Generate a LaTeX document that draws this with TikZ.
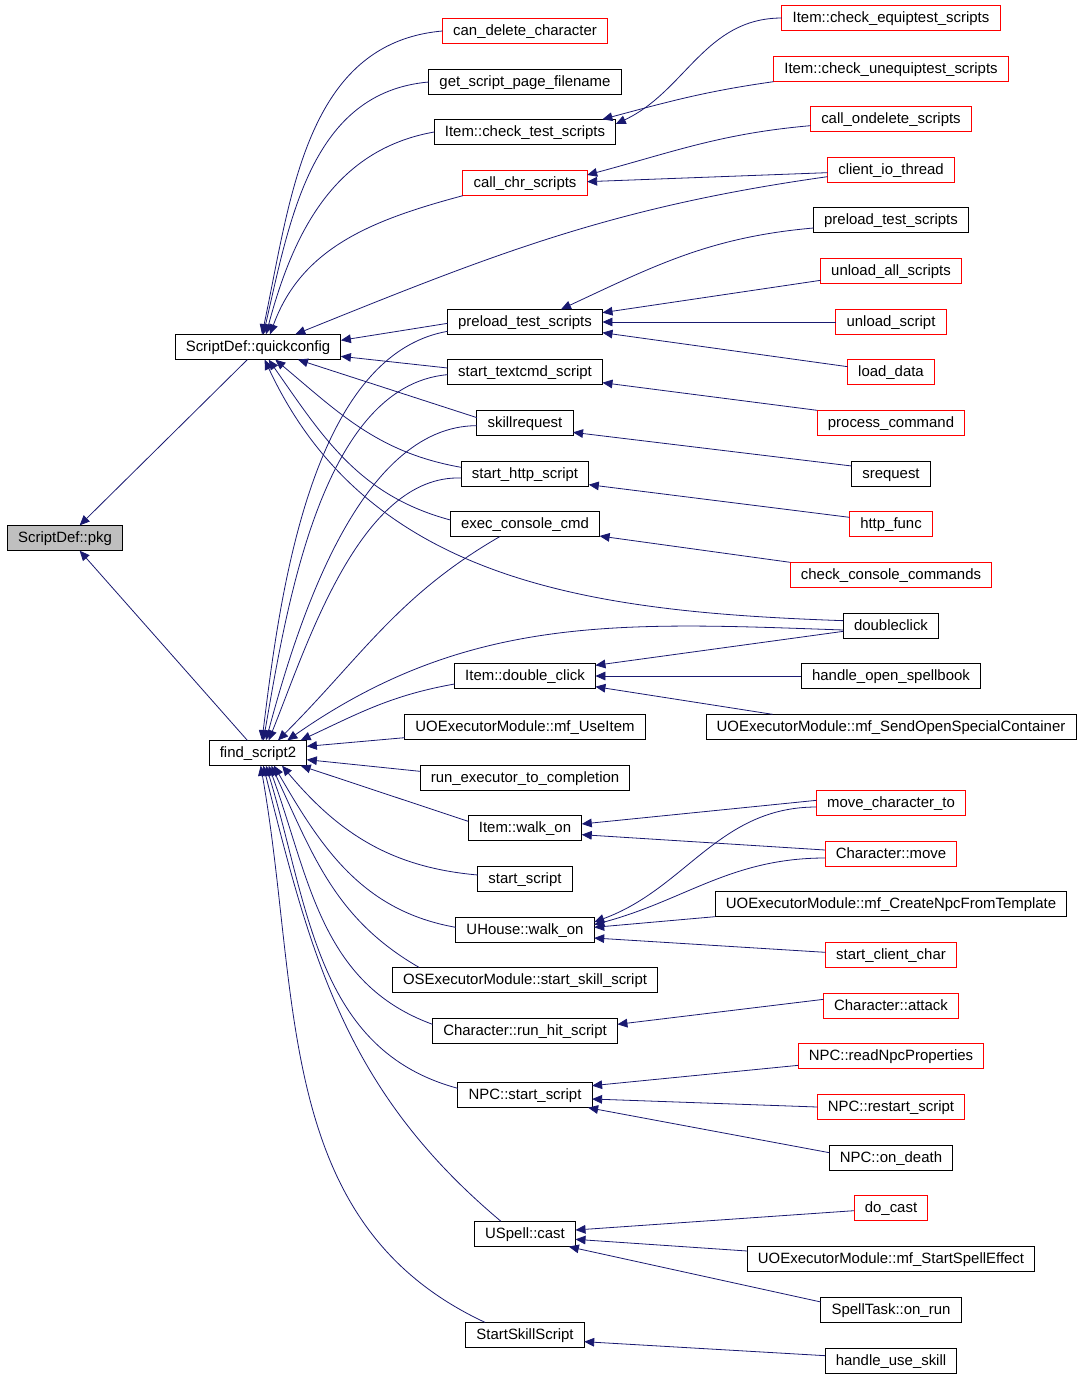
\documentclass[tikz,border=0pt]{standalone}
\usepackage{fontspec}
\setmainfont{Liberation Sans}
\usetikzlibrary{arrows.meta}

\definecolor{navy}{HTML}{191970}
\definecolor{nodoc}{HTML}{FF0000}
\definecolor{self}{HTML}{BFBFBF}

\begin{document}
\begin{tikzpicture}
  [ x=0.75pt, y=-0.75pt
  , fn/.style={draw=black, line width=0.75pt, shape=rectangle, minimum height=19pt,
               inner xsep=8pt, inner ysep=0pt, outer sep=0pt,
               text height=8.4pt, text depth=2.2pt,
               font=\fontsize{11.2}{13}\selectfont}
  , undoc/.style={fn, draw=nodoc}
  , root/.style={fn, fill=self}
  , call/.style={draw=navy, line width=0.6pt, -{Triangle[length=7.5pt,width=6.5pt]}, navy}
  ]
  \useasboundingbox (0,0) rectangle (1083,1380);

  \node[root]  (pkg) at (65,538)  {ScriptDef::pkg};
  \node[fn]    (qc)  at (258,347) {ScriptDef::quickconfig};
  \node[fn]    (fs)  at (258,753) {find\_script2};

  % callers of quickconfig / find_script2
  \node[undoc] (cdc) at (525,31)   {can\_delete\_character};
  \node[fn]    (gsp) at (525,82)   {get\_script\_page\_filename};
  \node[fn]    (ict) at (525,132)  {Item::check\_test\_scripts};
  \node[undoc] (ccs) at (525,183)  {call\_chr\_scripts};
  \node[fn]    (pts) at (525,322)  {preload\_test\_scripts};
  \node[fn]    (tcs) at (525,372)  {start\_textcmd\_script};
  \node[fn]    (skr) at (525,423)  {skillrequest};
  \node[fn]    (hts) at (525,474)  {start\_http\_script};
  \node[fn]    (ecc) at (525,524)  {exec\_console\_cmd};
  \node[fn]    (idc) at (525,676)  {Item::double\_click};
  \node[fn]    (mui) at (525,727)  {UOExecutorModule::mf\_UseItem};
  \node[fn]    (rec) at (525,778)  {run\_executor\_to\_completion};
  \node[fn]    (iwo) at (525,828)  {Item::walk\_on};
  \node[fn]    (sts) at (525,879)  {start\_script};
  \node[fn]    (uhw) at (525,930)  {UHouse::walk\_on};
  \node[fn]    (oss) at (525,980)  {OSExecutorModule::start\_skill\_script};
  \node[fn]    (rhs) at (525,1031) {Character::run\_hit\_script};
  \node[fn]    (nss) at (525,1095) {NPC::start\_script};
  \node[fn]    (usc) at (525,1234) {USpell::cast};
  \node[fn]    (sks) at (525,1335) {StartSkillScript};

  % outer callers
  \node[undoc] (ces)  at (891,18)   {Item::check\_equiptest\_scripts};
  \node[undoc] (cus)  at (891,69)   {Item::check\_unequiptest\_scripts};
  \node[undoc] (cos)  at (891,119)  {call\_ondelete\_scripts};
  \node[undoc] (cit)  at (891,170)  {client\_io\_thread};
  \node[fn]    (pts2) at (891,220)  {preload\_test\_scripts};
  \node[undoc] (uas)  at (891,271)  {unload\_all\_scripts};
  \node[undoc] (uls)  at (891,322)  {unload\_script};
  \node[undoc] (ld)   at (891,372)  {load\_data};
  \node[undoc] (pc)   at (891,423)  {process\_command};
  \node[fn]    (srq)  at (891,474)  {srequest};
  \node[undoc] (hf)   at (891,524)  {http\_func};
  \node[undoc] (chc)  at (891,575)  {check\_console\_commands};
  \node[fn]    (dcl)  at (891,626)  {doubleclick};
  \node[fn]    (hos)  at (891,676)  {handle\_open\_spellbook};
  \node[fn]    (soc)  at (891,727)  {UOExecutorModule::mf\_SendOpenSpecialContainer};
  \node[undoc] (mct)  at (891,803)  {move\_character\_to};
  \node[undoc] (cmv)  at (891,854)  {Character::move};
  \node[fn]    (cnt)  at (891,904)  {UOExecutorModule::mf\_CreateNpcFromTemplate};
  \node[undoc] (scc)  at (891,955)  {start\_client\_char};
  \node[undoc] (cat)  at (891,1006) {Character::attack};
  \node[undoc] (rnp)  at (891,1056) {NPC::readNpcProperties};
  \node[undoc] (nrs)  at (891,1107) {NPC::restart\_script};
  \node[fn]    (nod)  at (891,1158) {NPC::on\_death};
  \node[undoc] (dca)  at (891,1208) {do\_cast};
  \node[fn]    (sse)  at (891,1259) {UOExecutorModule::mf\_StartSpellEffect};
  \node[fn]    (str)  at (891,1310) {SpellTask::on\_run};
  \node[fn]    (hus)  at (891,1361) {handle\_use\_skill};

  \draw[call] ([xshift=-8pt]qc.south) -- ([xshift=11pt]pkg.north);
  \draw[call] ([xshift=-8pt]fs.north) -- ([xshift=11pt]pkg.south);

  \draw[call] (cdc.west) to[out=185,in=78] ([xshift=3pt]qc.north);
  \draw[call] (gsp.west) to[out=185,in=77] ([xshift=4pt]qc.north);
  \draw[call] (ict.west) to[out=190,in=75] ([xshift=6pt]qc.north);
  \draw[call] (ccs.south west) to[out=195,in=70] ([xshift=9pt]qc.north);
  \draw[call] ([yshift=-5pt]cit.west) to[out=188,in=22] ([xshift=28pt]qc.north);
  \draw[call] ([yshift=-1pt]pts.west) -- ([yshift=5pt]qc.east);
  \draw[call] ([yshift=3pt]tcs.west) -- ([yshift=-7pt]qc.east);
  \draw[call] ([yshift=4pt]skr.west) -- ([xshift=30pt]qc.south);
  \draw[call] ([yshift=5pt]hts.west) to[out=170,in=-40] ([xshift=13pt]qc.south);
  \draw[call] ([yshift=3pt]ecc.west) to[out=165,in=-55] ([xshift=8pt]qc.south);
  \draw[call] ([yshift=4pt]dcl.west) to[out=178,in=-65] ([xshift=5pt]qc.south);

  \draw[call] ([yshift=-7pt]pts.west) to[out=190,in=83,looseness=0.8] ([xshift=3pt]fs.north);
  \draw[call] ([yshift=-2pt]tcs.west) to[out=185,in=80,looseness=0.8] ([xshift=4pt]fs.north);
  \draw[call] ([yshift=-2pt]skr.west) to[out=180,in=75,looseness=0.8] ([xshift=6pt]fs.north);
  \draw[call] ([yshift=-3pt]hts.west) to[out=178,in=68,looseness=0.8] ([xshift=8pt]fs.north);
  \draw[call] ([xshift=-19pt]ecc.south) to[out=210,in=45] ([xshift=15pt]fs.north);
  \draw[call] ([yshift=-3pt]dcl.west) to[out=178,in=35] ([xshift=22pt]fs.north);
  \draw[call] ([yshift=-6pt]idc.west) to[out=190,in=25] ([xshift=32pt]fs.north);
  \draw[call] ([yshift=-8pt]mui.west) -- ([yshift=5pt]fs.east);
  \draw[call] ([yshift=5pt]rec.west) -- ([yshift=-5pt]fs.east);
  \draw[call] ([yshift=5pt]iwo.west) -- ([xshift=32pt]fs.south);
  \draw[call] ([yshift=3pt]sts.west) to[out=175,in=-50] ([xshift=18pt]fs.south);
  \draw[call] ([yshift=2pt]uhw.west) to[out=170,in=-60] ([xshift=12pt]fs.south);
  \draw[call] ([xshift=20pt]oss.north west) to[out=150,in=-65] ([xshift=10pt]fs.south);
  \draw[call] ([yshift=5pt]rhs.west) to[out=160,in=-70] ([xshift=8pt]fs.south);
  \draw[call] ([yshift=5pt]nss.west) to[out=165,in=-73] ([xshift=6pt]fs.south);
  \draw[call] ([xshift=-18pt]usc.north) to[out=140,in=-76] ([xshift=4pt]fs.south);
  \draw[call] ([xshift=-30pt]sks.north) to[out=155,in=-80] ([xshift=2pt]fs.south);

  \draw[call] (ces.west) to[out=180,in=25] ([yshift=6pt]ict.east);
  \draw[call] (cus.south west) to[out=188,in=15] ([xshift=-10pt]ict.north east);
  \draw[call] ([yshift=-5pt]cos.west) to[out=185,in=15] ([yshift=6pt]ccs.east);
  \draw[call] ([yshift=-2pt]cit.west) -- ([yshift=1pt]ccs.east);
  \draw[call] ([yshift=-6pt]pts2.west) to[out=185,in=25] ([xshift=27pt]pts.north);
  \draw[call] ([yshift=-7pt]uas.west) -- ([yshift=7pt]pts.east);
  \draw[call] (uls.west) -- (pts.east);
  \draw[call] ([yshift=4pt]ld.west) -- ([yshift=-8pt]pts.east);
  \draw[call] (pc.north west) -- ([yshift=-8pt]tcs.east);
  \draw[call] ([yshift=6pt]srq.west) -- ([yshift=-7pt]skr.east);
  \draw[call] ([yshift=5pt]hf.west) -- ([yshift=-8pt]hts.east);
  \draw[call] (chc.north west) -- ([yshift=-9pt]ecc.east);
  \draw[call] ([yshift=-4pt]dcl.west) -- ([yshift=8pt]idc.east);
  \draw[call] (hos.west) -- (idc.east);
  \draw[call] ([xshift=50pt]soc.north west) -- ([yshift=-8pt]idc.east);
  \draw[call] ([yshift=2pt]mct.west) -- ([yshift=3pt]iwo.east);
  \draw[call] ([yshift=3pt]cmv.west) -- ([yshift=-5pt]iwo.east);
  \draw[call] ([yshift=-3pt]mct.west) to[out=180,in=20] ([yshift=6pt]uhw.east);
  \draw[call] ([yshift=-3pt]cmv.west) to[out=180,in=15] ([yshift=4pt]uhw.east);
  \draw[call] (cnt.south west) -- ([yshift=2pt]uhw.east);
  \draw[call] ([yshift=2pt]scc.west) -- ([yshift=-6pt]uhw.east);
  \draw[call] ([yshift=5pt]cat.west) -- ([yshift=5pt]rhs.east);
  \draw[call] ([yshift=-7pt]rnp.west) -- ([yshift=7pt]nss.east);
  \draw[call] (nrs.west) -- ([yshift=-3pt]nss.east);
  \draw[call] ([yshift=4pt]nod.west) -- ([xshift=-3pt]nss.south east);
  \draw[call] ([yshift=-2pt]dca.west) -- ([yshift=3pt]usc.east);
  \draw[call] ([yshift=6pt]sse.west) -- ([yshift=-4pt]usc.east);
  \draw[call] ([yshift=6pt]str.west) -- ([xshift=-5pt]usc.south east);
  \draw[call] ([yshift=4pt]hus.west) -- ([yshift=-5pt]sks.east);

\end{tikzpicture}
\end{document}
